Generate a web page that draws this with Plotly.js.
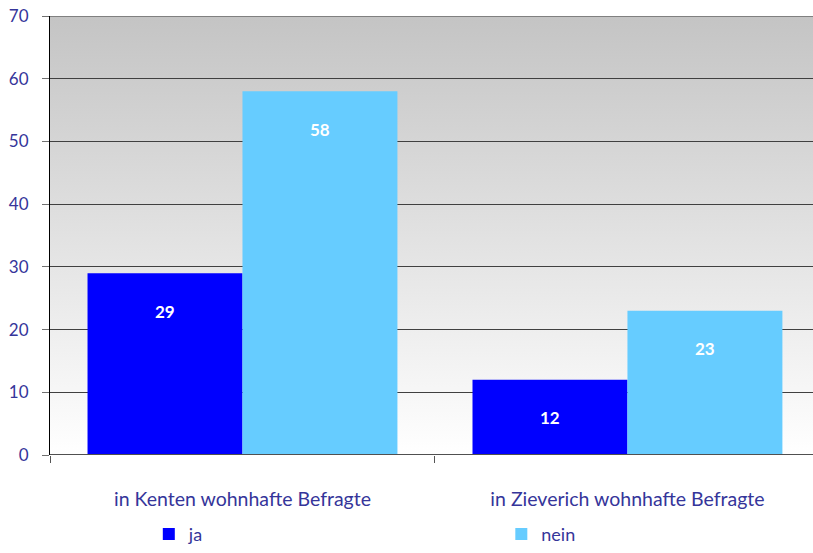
<!DOCTYPE html>
<html>
<head>
<meta charset="utf-8">
<script src="https://cdn.plot.ly/plotly-3.0.1.min.js"></script>
<style>
  html, body { margin: 0; padding: 0; background: #ffffff; }
  #wrap { position: relative; width: 813px; height: 553px; }
  #bg { position: absolute; left: 50px; top: 16px; width: 763px; height: 439px;
        background: linear-gradient(to bottom, #c4c4c4 0%, #ffffff 100%); z-index: 0; }
  #chart { position: absolute; left: 0; top: 0; width: 813px; height: 553px; z-index: 1; }
</style>
</head>
<body>
<div id="wrap"><div id="bg"></div><div id="chart"></div></div>
<script>
const categories = ["in Kenten wohnhafte Befragte", "in Zieverich wohnhafte Befragte"];
const seriesNames = ["ja", "nein"];
const jaValues = [29, 12];
const neinValues = [58, 23];
const yTicks = [0, 10, 20, 30, 40, 50, 60, 70];

const colors = ["#0000ff", "#66ccff"];
const textColor = "#35359a";
const bargap = 0.195;
const seriesValues = [jaValues, neinValues];
const legendIds = ["legend", "legend2"];

const traces = seriesValues.map((vals, s) => ({
  type: "bar",
  name: seriesNames[s],
  x: categories,
  y: vals,
  legend: legendIds[s],
  marker: { color: colors[s], line: { width: 0 } },
  hoverinfo: "skip"
}));

const barW = (1 - bargap) / 2;
const annotations = [];
seriesValues.forEach((vals, s) => {
  vals.forEach((v, i) => {
    annotations.push({
      x: i + (s === 0 ? -barW / 2 : barW / 2),
      y: v,
      xref: "x", yref: "y",
      text: String(v),
      showarrow: false,
      yanchor: "middle",
      yshift: -38,
      font: { family: "Lato, 'Open Sans', sans-serif", size: 17, color: "#ffffff", weight: "bold" }
    });
  });
});

const legendBase = {
  orientation: "h",
  y: -0.223, yanchor: "bottom",
  xanchor: "left",
  bgcolor: "rgba(0,0,0,0)",
  borderwidth: 0,
  font: { size: 18, color: textColor }
};

const layout = {
  width: 813, height: 553,
  margin: { l: 50, r: 0, t: 16, b: 98, pad: 0 },
  paper_bgcolor: "rgba(0,0,0,0)",
  plot_bgcolor: "rgba(0,0,0,0)",
  barmode: "group",
  bargap: bargap,
  bargroupgap: 0,
  showlegend: true,
  font: { family: "Lato, 'Open Sans', sans-serif", color: textColor },
  xaxis: {
    type: "category",
    range: [-0.5, 1.482],
    showgrid: false,
    zeroline: false,
    showline: false,
    ticks: "outside",
    tickson: "boundaries",
    ticklen: 7,
    tickcolor: "#555555",
    tickwidth: 1,
    ticklabelstandoff: 30,
    tickfont: { size: 19.5, color: textColor }
  },
  yaxis: {
    range: [0, 70],
    tickvals: yTicks,
    ticktext: yTicks.map(String),
    showgrid: true,
    gridcolor: "#404040",
    gridwidth: 1,
    zeroline: false,
    showline: true,
    linecolor: "#000000",
    linewidth: 1,
    ticks: "outside",
    ticklen: 7,
    tickcolor: "#707070",
    ticklabelstandoff: 10,
    tickfont: { size: 17, color: textColor }
  },
  shapes: [
    { type: "line", xref: "paper", yref: "y", x0: 0, x1: 1, y0: 70, y1: 70,
      line: { color: "#808080", width: 2 } },
    { type: "line", xref: "paper", yref: "y", x0: 0, x1: 1, y0: 0, y1: 0,
      line: { color: "#505050", width: 2 } }
  ],
  legend: Object.assign({}, legendBase, { x: 0.1295 }),
  legend2: Object.assign({}, legendBase, { x: 0.5915 }),
  annotations: annotations
};

Plotly.newPlot("chart", traces, layout, { displayModeBar: false, staticPlot: true });
</script>
</body>
</html>
